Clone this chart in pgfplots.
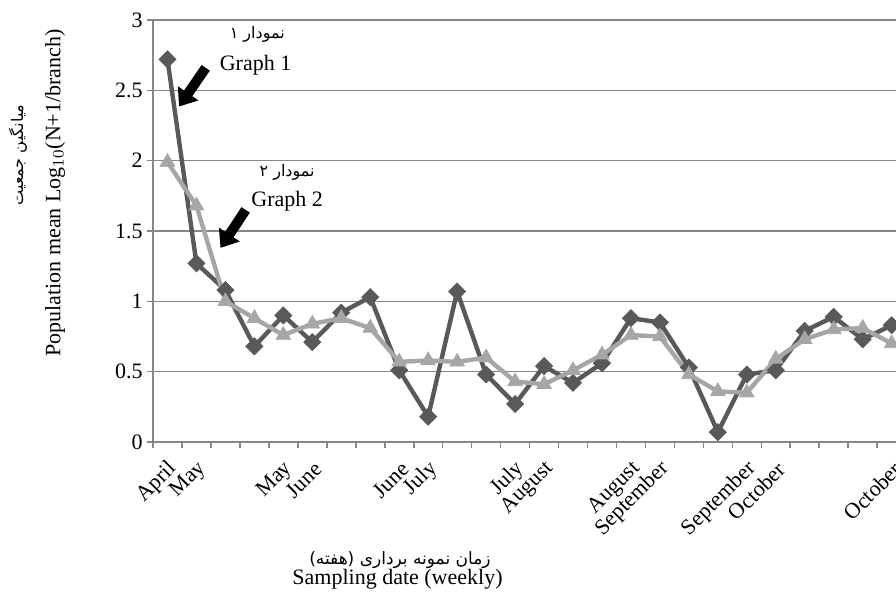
\documentclass[border=0pt]{standalone}
\usepackage{fontspec}
\setmainfont{Liberation Serif}
\newfontfamily\persianfont[Script=Arabic]{DejaVu Sans}
\TeXXeTstate=1
\usepackage{pgfplots}
\usepackage{pgfplotstable}
\pgfplotsset{compat=1.18}
\usetikzlibrary{arrows.meta}

\definecolor{seriesdark}{HTML}{595959}
\definecolor{serieslight}{HTML}{A6A6A6}
\definecolor{axisgray}{HTML}{878787}

% weekly population means, Log10(N+1/branch)
\pgfplotstableread{
idx g1 g2
0 2.72 1.99
1 1.27 1.68
2 1.08 1.00
3 0.68 0.88
4 0.90 0.76
5 0.71 0.84
6 0.92 0.88
7 1.03 0.81
8 0.51 0.57
9 0.18 0.58
10 1.07 0.57
11 0.48 0.60
12 0.27 0.43
13 0.54 0.41
14 0.42 0.51
15 0.56 0.62
16 0.88 0.76
17 0.85 0.75
18 0.53 0.48
19 0.07 0.36
20 0.48 0.35
21 0.51 0.59
22 0.79 0.73
23 0.89 0.80
24 0.73 0.81
25 0.83 0.70
}\datatable

\newcommand{\fa}[1]{{\persianfont\beginR #1\endR}}

\begin{document}
\begin{tikzpicture}[font=\fontsize{11}{13}\selectfont]
\begin{axis}[
  at={(0pt,0pt)}, anchor=south west,
  scale only axis,
  width=371.5pt, height=211pt,
  xmin=-0.5, xmax=25.15,
  ymin=0, ymax=3,
  ytick={0,0.5,1,1.5,2,2.5,3},
  axis x line*=bottom,
  axis y line*=left,
  axis line style={draw=axisgray, line width=0.8pt},
  ymajorgrids,
  grid style={draw=axisgray, line width=0.8pt},
  tick align=outside,
  tick style={draw=axisgray, line width=0.8pt},
  major tick length=3pt,
  minor tick length=3pt,
  xtick={0,1,4,5,8,9,12,13,16,17,20,21,25},
  xticklabels={April,May,May,June,June,July,July,August,August,September,September,October,October},
  minor xtick={-0.5,0.5,...,24.5},
  major x tick style={draw=none},
  xticklabel style={rotate=45, anchor=east, inner sep=1pt, xshift=-3pt, yshift=-8.4pt},
  yticklabel style={inner sep=2pt},
  /pgf/number format/assume math mode=true,
  clip=true,
]
\addplot[seriesdark, line width=2.2pt, mark=square*, mark size=3pt,
  mark options={solid, rotate=45, line width=0.4pt, fill=seriesdark}]
  table[x=idx, y=g1] {\datatable};
\addplot[serieslight, line width=2.2pt, mark=triangle*, mark size=4.2pt,
  mark options={solid, line width=0.4pt, fill=serieslight}]
  table[x=idx, y=g2] {\datatable};

% callout arrows and series names
\draw[black, line width=5pt, -{Triangle[width=12pt,length=8pt]}]
  (axis cs:1.32,2.66) -- (axis cs:0.40,2.385);
\draw[black, line width=5pt, -{Triangle[width=12pt,length=8pt]}]
  (axis cs:2.70,1.65) -- (axis cs:1.83,1.38);
\node[font=\fontsize{8}{10}\selectfont] at (axis cs:3.10,2.895) {\fa{نمودار ۱}};
\node at (axis cs:3.04,2.68) {Graph 1};
\node[font=\fontsize{8}{10}\selectfont] at (axis cs:4.13,1.92) {\fa{نمودار ۲}};
\node at (axis cs:4.13,1.71) {Graph 2};
\end{axis}

% axis titles
\node[rotate=90] at (-49pt,124.5pt) {Population mean Log$_{10}$(N+1/branch)};
\node[rotate=90, font=\fontsize{8}{10}\selectfont] at (-67.5pt,143.5pt) {\fa{میانگین جمعیت}};
\node[font=\fontsize{8.5}{10}\selectfont] at (123.5pt,-59pt) {\fa{زمان نمونه برداری (هفته)}};
\node at (122.25pt,-68.5pt) {Sampling date (weekly)};

\pgfresetboundingbox
\path[use as bounding box] (-76.5pt,-79.5pt) rectangle (371.5pt,221pt);
\end{tikzpicture}
\end{document}
